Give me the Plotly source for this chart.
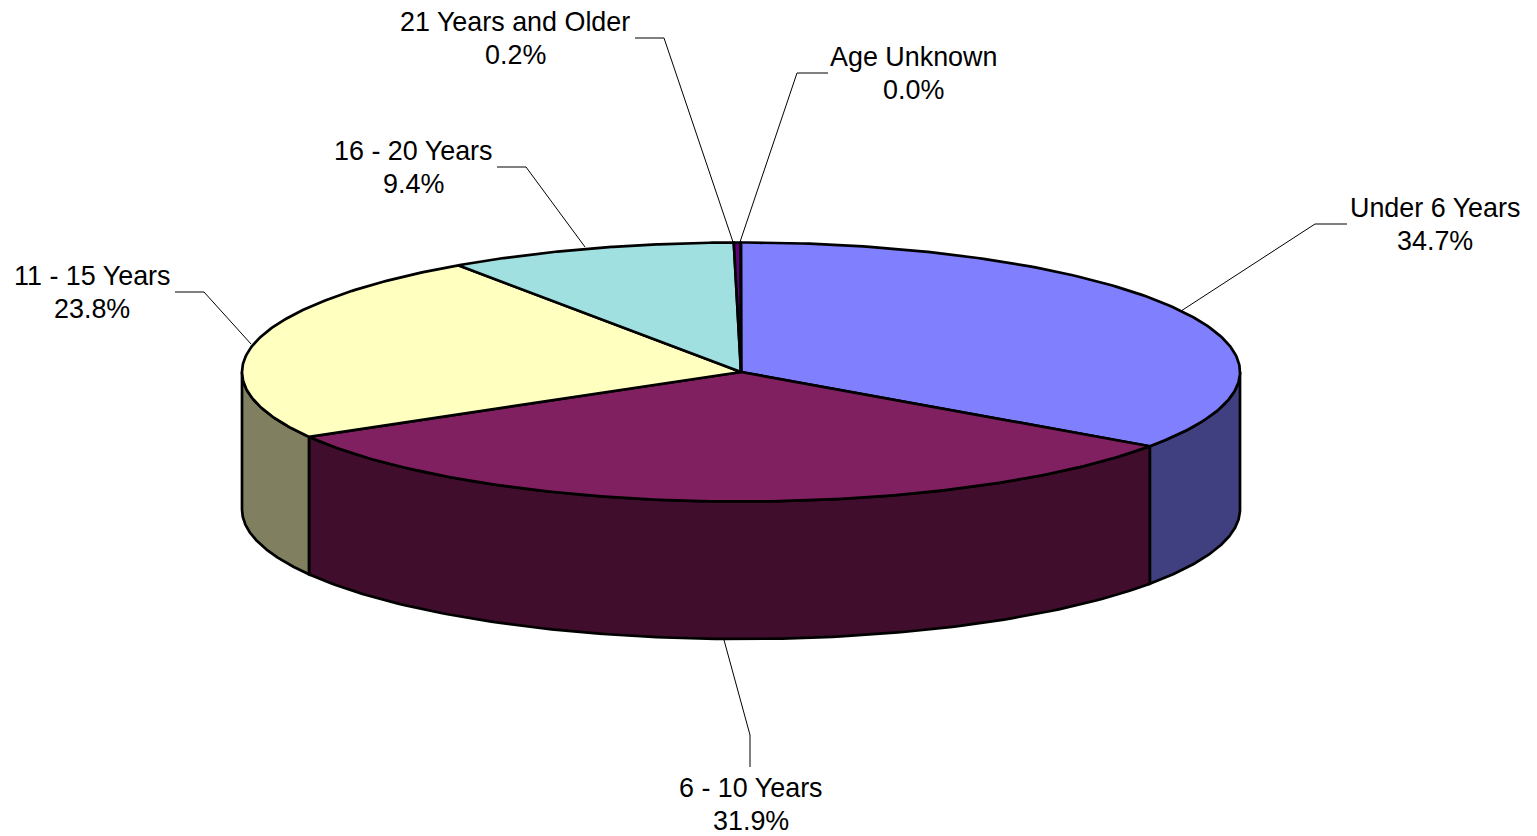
import numpy as np
import plotly.graph_objects as go

# Slice data, clockwise from 12 o'clock (estimated to two decimals from the slice edges)
age_groups = ["Under 6 Years", "6 - 10 Years", "11 - 15 Years", "16 - 20 Years", "21 Years and Older", "Age Unknown"]
shares = [34.72, 31.94, 23.75, 9.36, 0.22, 0.01]

top_colors = ["#8080FF", "#802060", "#FFFFC0", "#A0E0E0", "#600080", "#FF8080"]
side_colors = ["#404080", "#400D2D", "#808060", "#507070", "#300040", "#804040"]

# Pie geometry, in pixels of the page
CX, CY = 741, 372
RX, RY = 499, 129.5
DEPTH = 137.5
LINE_GAP = 33

# Label centre and leader path for each slice
label_pos = [(1435, 224.5), (751, 804.5), (92, 292.5), (413, 167.5), (515, 38.5), (913, 73.5)]
leader_paths = [
    [(1181, 311), (1315, 224), (1347, 224)],
    [(724, 640), (750, 735), (750, 767)],
    [(251, 344), (204, 292), (175, 292)],
    [(585, 247), (526, 167), (497, 167)],
    [(733, 242), (664, 38), (635, 38)],
    [(740, 242), (797, 73), (828, 73)],
]


def rim(angle, drop=0):
    # angle in degrees clockwise from the top of the ellipse
    rad = np.radians(angle)
    return CX + RX * np.sin(rad), CY - RY * np.cos(rad) + drop


def add_poly(fig, xs, ys, fill, width=2.7):
    fig.add_trace(go.Scatter(
        x=xs, y=ys, mode="lines", fill="toself", fillcolor=fill,
        line=dict(color="black", width=width), hoverinfo="skip", showlegend=False
    ))


def add_label(fig, x, y, text):
    fig.add_annotation(
        x=x, y=y, text=text,
        showarrow=False, xanchor="center", yanchor="middle", align="center",
        font=dict(family="Liberation Sans, Arial, sans-serif", size=26.9, color="black")
    )


edges = np.cumsum([0] + shares) / sum(shares) * 360

fig = go.Figure()

# Side walls: only the front half of the rim is visible
for i in range(len(shares)):
    a0, a1 = max(edges[i], 90), min(edges[i + 1], 270)
    if a1 <= a0:
        continue
    angles = np.linspace(a0, a1, 120)
    x_up, y_up = rim(angles)
    x_low, y_low = rim(angles[::-1], DEPTH)
    add_poly(fig, np.r_[x_up, x_low, x_up[0]], np.r_[y_up, y_low, y_up[0]], side_colors[i])

# Top faces
for i in range(len(shares)):
    angles = np.linspace(edges[i], edges[i + 1], 160)
    x_arc, y_arc = rim(angles)
    add_poly(fig, np.r_[CX, x_arc, CX], np.r_[CY, y_arc, CY], top_colors[i])

# Leader lines and two-line labels
for i in range(len(shares)):
    fig.add_trace(go.Scatter(
        x=[p[0] for p in leader_paths[i]],
        y=[p[1] for p in leader_paths[i]],
        mode="lines", line=dict(color="black", width=1),
        hoverinfo="skip", showlegend=False
    ))
    add_label(fig, label_pos[i][0], label_pos[i][1] - LINE_GAP / 2, age_groups[i])
    add_label(fig, label_pos[i][0], label_pos[i][1] + LINE_GAP / 2, f"{shares[i]:.1f}%")

fig.update_layout(
    width=1537, height=836,
    margin=dict(l=0, r=0, t=0, b=0),
    paper_bgcolor="white", plot_bgcolor="white",
    showlegend=False,
    xaxis=dict(range=[0, 1537], visible=False, fixedrange=True),
    yaxis=dict(range=[836, 0], visible=False, fixedrange=True),
)

fig.write_html("out.html", post_script="document.body.style.margin='0';", config={"displayModeBar": False})
